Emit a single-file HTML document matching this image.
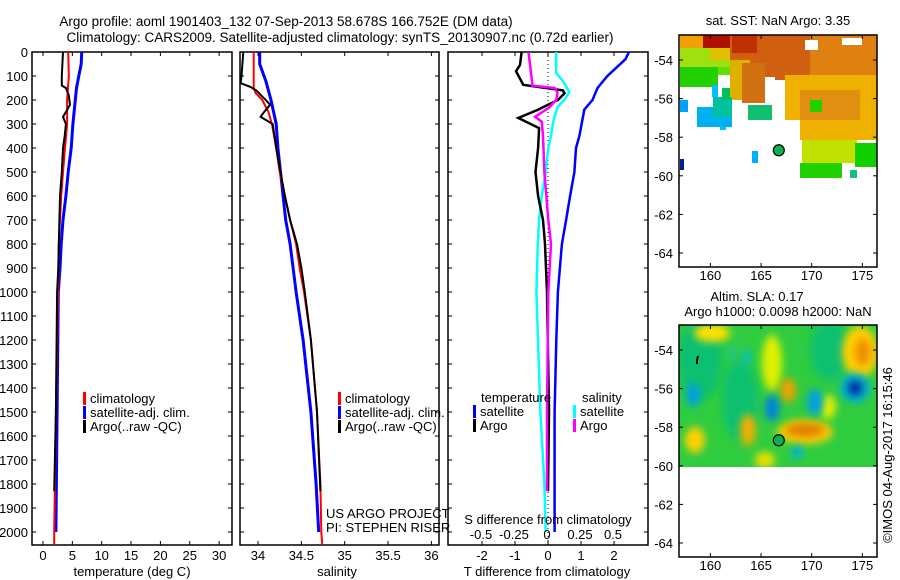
<!DOCTYPE html>
<html><head><meta charset="utf-8"><style>
body{margin:0;background:#fff;}
svg{display:block;font-family:"Liberation Sans",sans-serif;}
text{fill:#000;}
</style></head><body>
<svg id="fig" width="900" height="580" viewBox="0 0 900 580" xmlns="http://www.w3.org/2000/svg">
<defs>
<filter id="blur" x="-50%" y="-50%" width="200%" height="200%"><feGaussianBlur stdDeviation="4"/></filter>
<clipPath id="clipSla"><rect x="679" y="325" width="198" height="142"/></clipPath>
</defs>
<text x="286" y="26" font-size="13.5" text-anchor="middle">Argo profile: aoml 1901403_132 07-Sep-2013 58.678S 166.752E (DM data)</text>
<text x="340" y="42" font-size="13.5" text-anchor="middle">Climatology: CARS2009. Satellite-adjusted climatology: synTS_20130907.nc (0.72d earlier)</text>
<g id="p1"></g>
<g id="p2"></g>
<g id="p3"></g>
<g id="m1"></g>
<g id="m2"></g>
<text transform="translate(892,455) rotate(-90)" font-size="13" text-anchor="middle">©IMOS 04-Aug-2017 16:15:46</text>
</svg>
<script>
// ---- data ----
const tempClimDepth=[0,100,200,300,400,500,600,700,800,1000,1200,1500,2000,2050];
const tempClim=[4.3,4.4,4.1,4.1,3.75,3.4,3.1,2.9,2.7,2.55,2.4,2.2,1.9,1.9];
const tempSatDepth=[0,50,100,150,200,300,400,500,600,700,800,900,1000,1500,2000];
const tempSat=[6.6,6.5,6.1,5.7,5.5,5.1,4.8,4.3,3.9,3.4,3.1,2.9,2.6,2.4,2.2];
const tempArgoDepth=[0,100,140,150,180,220,250,270,300,350,400,500,600,800,900,1000,1500,1830];
const tempArgo=[3.4,3.2,3.2,3.9,4.4,4.6,3.9,3.4,3.9,3.7,3.4,3.2,2.9,2.7,2.6,2.4,2.2,1.9];
const salClimDepth=[0,150,170,200,250,300,400,500,600,700,800,900,1000,1200,1500,1800,2000,2050];
const salClim=[33.95,33.95,33.97,34.05,34.12,34.16,34.21,34.25,34.31,34.37,34.44,34.48,34.53,34.61,34.68,34.72,34.73,34.74];
const salSatDepth=[0,50,80,120,200,300,400,500,600,700,800,1000,1200,1500,1800,2000];
const salSat=[34.02,34.02,34.05,34.09,34.15,34.21,34.23,34.26,34.29,34.32,34.37,34.44,34.52,34.61,34.67,34.70];
const salArgoDepth=[0,100,130,145,160,200,220,250,270,300,400,500,600,700,800,900,1000,1200,1500,1830];
const salArgo=[33.83,33.81,33.80,33.91,33.98,34.09,34.14,34.07,34.03,34.17,34.21,34.26,34.31,34.37,34.45,34.50,34.54,34.61,34.68,34.72];
const dTSatDepth=[0,30,100,150,200,240,350,400,500,600,700,800,900,1000,1200,1500,2000];
const dTSat=[2.45,2.35,1.8,1.5,1.35,1.1,0.95,0.85,0.8,0.67,0.55,0.42,0.36,0.3,0.25,0.2,0.2];
const dTArgoDepth=[0,54,80,137,160,172,200,242,275,317,400,500,600,700,800,900,1000,1500,1830];
const dTArgo=[-0.8,-0.85,-0.97,-0.75,0.45,0.5,0.3,-0.33,-0.9,-0.27,-0.3,-0.38,-0.3,-0.15,-0.09,-0.06,-0.03,0.03,0.0];
const dSArgoDepth=[0,140,150,170,200,230,270,290,350,500,700,800,1000,1500,1830];
const dSArgo=[-0.14,-0.11,0.06,0.08,0.07,0.02,-0.09,-0.04,-0.03,-0.02,0.01,0.03,0.01,0.0,0.0];
const dSSatDepth=[0,88,120,167,200,229,283,350,400,500,600,700,800,1000,1500,1800,2000];
const dSSat=[0.07,0.07,0.12,0.17,0.13,0.08,0.05,0.03,0.01,-0.01,-0.04,-0.06,-0.07,-0.08,-0.05,-0.02,-0.01];
const depthTicks=[0,100,200,300,400,500,600,700,800,900,1000,1100,1200,1300,1400,1500,1600,1700,1800,1900,2000];
const tempTicks=[0,5,10,15,20,25,30];
const salTicks=[34,34.5,35,35.5,36];
const salTickLabels=["34","34.5","35","35.5","36"];
const dTTicks=[-2,-1,0,1,2];
const dSTicks=[-0.5,-0.25,0,0.25,0.5];
const lonTicks=[160,165,170,175];
const latTicks=[-54,-56,-58,-60,-62,-64];
const argoLon=166.752, argoLat=-58.678;

const NS="http://www.w3.org/2000/svg";
function mk(parent,tag,attrs,txt){const e=document.createElementNS(NS,tag);for(const k in attrs)e.setAttribute(k,attrs[k]);if(txt!==undefined)e.textContent=txt;parent.appendChild(e);return e;}
const Y0=52,Y1=545;
const yD=d=>52+d*0.24;
function panelBox(g,x0,x1){
  const r=mk(g,'rect',{x:x0,y:Y0,width:x1-x0,height:Y1-Y0,fill:'none',stroke:'#000','stroke-width':1.5});
  
  
  depthTicks.forEach(d=>{mk(g,'line',{x1:x0,x2:x0+4,y1:yD(d),y2:yD(d),stroke:'#000'});mk(g,'line',{x1:x1,x2:x1-4,y1:yD(d),y2:yD(d),stroke:'#000'});});
}
function series(g,xs,ds,fx,color,w,name){
  const pts=xs.map((v,i)=>fx(v).toFixed(1)+','+yD(ds[i]).toFixed(1)).join(' ');
  const p=mk(g,'polyline',{points:pts,fill:'none',stroke:color,'stroke-width':w,'stroke-linejoin':'miter'});
  
  
}
function xTicks(g,ticks,labels,fx,ylab,x0,x1){
  ticks.forEach((t,i)=>{const x=fx(t);mk(g,'line',{x1:x,x2:x,y1:Y1,y2:Y1-4,stroke:'#000'});mk(g,'line',{x1:x,x2:x,y1:Y0,y2:Y0+4,stroke:'#000'});
    const tl=mk(g,'text',{x:x,y:ylab,'font-size':13,'text-anchor':'middle'},labels[i]);
    
    });
}
function legend(g,x,y,items){
  items.forEach((it,i)=>{mk(g,'rect',{x:x,y:y+i*14-11,width:3,height:13,fill:it[1]});
    const t=mk(g,'text',{x:x+7,y:y+i*14,'font-size':13},it[0]);
    
    });
}
// panel 1
const p1=document.getElementById('p1');
const fT=t=>43+5.87*t;
panelBox(p1,32,232);
depthTicks.forEach(d=>{const t=mk(p1,'text',{x:28,y:yD(d)+5,'font-size':13,'text-anchor':'end'},String(d));
  
  });
xTicks(p1,tempTicks,tempTicks.map(String),fT,560,32,232);
series(p1,tempSat,tempSatDepth,fT,'#0000ff',3,'temp-satellite-line');
series(p1,tempClim,tempClimDepth,fT,'#ff0000',2,'temp-climatology-line');
series(p1,tempArgo,tempArgoDepth,fT,'#000',2,'temp-argo-line');
legend(p1,83,403,[['climatology','#f00'],['satellite-adj. clim.','#00f'],['Argo(..raw -QC)','#000']]);
mk(p1,'text',{x:132,y:576,'font-size':13,'text-anchor':'middle'},'temperature (deg C)');
// panel 2
const p2=document.getElementById('p2');
const fS=s=>258+86.7*(s-34);
panelBox(p2,240,439);
xTicks(p2,salTicks,salTickLabels,fS,560,240,439);
series(p2,salSat,salSatDepth,fS,'#0000ff',3,'sal-satellite-line');
series(p2,salClim,salClimDepth,fS,'#ff0000',2,'sal-climatology-line');
series(p2,salArgo,salArgoDepth,fS,'#000',2,'sal-argo-line');
legend(p2,338,403,[['climatology','#f00'],['satellite-adj. clim.','#00f'],['Argo(..raw -QC)','#000']]);
mk(p2,'text',{x:326,y:518,'font-size':13},'US ARGO PROJECT');
mk(p2,'text',{x:326,y:532,'font-size':13},'PI: STEPHEN RISER');
mk(p2,'text',{x:337,y:576,'font-size':13,'text-anchor':'middle'},'salinity');
// panel 3
const p3=document.getElementById('p3');
const fdT=t=>548+33*t, fdS=s=>547+132*s;
panelBox(p3,448,648);
mk(p3,'line',{x1:548,x2:548,y1:Y0,y2:Y1,stroke:'#000','stroke-dasharray':'1,3'});
xTicks(p3,dTTicks,dTTicks.map(String),fdT,560,448,648);
series(p3,dSSat,dSSatDepth,fdS,'#00ffff',2.5,'sdiff-satellite-line');
series(p3,dTSat,dTSatDepth,fdT,'#0000ff',2.5,'tdiff-satellite-line');
series(p3,dTArgo,dTArgoDepth,fdT,'#000',2.5,'tdiff-argo-line');
series(p3,dSArgo,dSArgoDepth,fdS,'#ff00ff',2.5,'sdiff-argo-line');
mk(p3,'text',{x:481,y:402,'font-size':13},'temperature');
mk(p3,'text',{x:582,y:402,'font-size':13},'salinity');
legend(p3,473,416,[['satellite','#00f'],['Argo','#000']]);
legend(p3,573,416,[['satellite','#0ff'],['Argo','#f0f']]);
mk(p3,'text',{x:548,y:524,'font-size':13,'text-anchor':'middle'},'S difference from climatology');
dSTicks.forEach(s=>{const t=mk(p3,'text',{x:fdS(s),y:539,'font-size':13,'text-anchor':'middle'},String(s));
  
  });
mk(p3,'text',{x:547,y:576,'font-size':13,'text-anchor':'middle'},'T difference from climatology');
// maps
const fLon=l=>679+(l-156.9)*10.13;
function mapAxes(g,top,lat54){
  const fLat=la=>lat54+(-54-la)*19.3;
  mk(g,'rect',{x:679,y:top,width:198,height:232,fill:'none',stroke:'#000','stroke-width':1.5});
  lonTicks.forEach(l=>{mk(g,'line',{x1:fLon(l),x2:fLon(l),y1:top,y2:top+4,stroke:'#000'});mk(g,'line',{x1:fLon(l),x2:fLon(l),y1:top+232,y2:top+228,stroke:'#000'});
    mk(g,'text',{x:fLon(l),y:top+245,'font-size':13,'text-anchor':'middle'},String(l));});
  latTicks.forEach(la=>{mk(g,'line',{x1:679,x2:683,y1:fLat(la),y2:fLat(la),stroke:'#000'});mk(g,'line',{x1:877,x2:873,y1:fLat(la),y2:fLat(la),stroke:'#000'});
    mk(g,'text',{x:673,y:fLat(la)+5,'font-size':13,'text-anchor':'end'},String(la));});
  const c=mk(g,'circle',{cx:fLon(argoLon),cy:fLat(argoLat),r:5.5,fill:'#10b050',stroke:'#000','stroke-width':1.2});
  
  
}
// SST map
const m1=document.getElementById('m1');
const sstRects=[
 [680,35,50,16,'#f0a000'],[703,35,30,14,'#b01000'],[730,35,80,42,'#d06010'],[732,35,25,18,'#c03000'],
 [810,35,67,44,'#e08010'],[680,48,50,20,'#a0e010'],[710,48,20,12,'#e0c000'],[680,67,38,20,'#20d000'],[718,67,12,8,'#60e000'],
 [730,60,20,40,'#e0b000'],[742,63,23,40,'#d07010'],[775,75,20,14,'#d06010'],[785,75,92,65,'#f0b000'],[800,90,60,30,'#e09010'],
 [810,100,12,12,'#20d000'],[802,140,55,23,'#c0e000'],[800,163,42,15,'#20d000'],[855,143,22,24,'#10d000'],
 [697,107,35,20,'#00b0f0'],[680,100,8,12,'#00a0ff'],[712,85,6,12,'#00c0ff'],[713,97,19,20,'#00c0a0'],[722,88,8,12,'#00c060'],
 [748,105,24,15,'#10c070'],[706,139,8,12,'#00c0ff'],[718,139,6,12,'#00c0ff'],[718,158,6,12,'#0080ff'],[752,151,6,12,'#00b0ff'],
 [680,159,4,11,'#002090'],[850,170,7,8,'#10c080'],[720,127,6,10,'#00c0ff']];
sstRects.forEach(r=>{const e=mk(m1,'rect',{x:r[0],y:r[1],width:r[2],height:r[3],fill:r[4]});
  
  });
[[765,80,20,20],[805,40,13,10],[842,38,20,7],[690,130,60,60],[760,120,40,70]].forEach(r=>mk(m1,'rect',{x:r[0],y:r[1],width:r[2],height:r[3],fill:'#fff'}));
mapAxes(m1,35,60);
mk(m1,'text',{x:778,y:25,'font-size':13,'text-anchor':'middle'},'sat. SST: NaN Argo: 3.35');
// SLA map
const m2=document.getElementById('m2');
const sg=mk(m2,'g',{'clip-path':'url(#clipSla)'});
mk(sg,'rect',{x:679,y:325,width:198,height:142,fill:'#30cc40'});
const blobs=[[700,360,22,40,'#10c070'],[740,400,18,40,'#10c070'],[830,350,20,30,'#10c070'],
 [712,333,18,9,'#ffe000'],[860,352,18,26,'#ffd000'],[863,352,8,14,'#f09000'],[772,363,10,28,'#e0f000'],[788,390,8,12,'#f0a000'],
 [805,432,28,12,'#ffd000'],[805,430,20,7,'#e08000'],[748,430,8,16,'#f0b000'],[695,440,10,13,'#ffd000'],[828,407,8,12,'#e0f000'],[765,460,10,8,'#f0e000'],
 [855,388,15,15,'#00b0d0'],[855,388,7,7,'#0020a0'],[772,408,7,13,'#0080e0'],[815,402,8,13,'#00a0e0'],[693,395,7,12,'#00a0e0'],[797,452,6,6,'#00b0e0'],[747,357,4,8,'#00c0d0'],[732,353,4,8,'#20c0a0']];
blobs.forEach(b=>{const e=mk(sg,'ellipse',{cx:b[0],cy:b[1],rx:b[2],ry:b[3],fill:b[4],filter:'url(#blur)'});
  
  });
mk(m2,'path',{d:'M697,360 l1,-4 M697,360 l0,4',stroke:'#000','stroke-width':2});
mapAxes(m2,325,350);
mk(m2,'text',{x:757,y:301,'font-size':13,'text-anchor':'middle'},'Altim. SLA: 0.17');
mk(m2,'text',{x:778,y:316,'font-size':13,'text-anchor':'middle'},'Argo h1000: 0.0098 h2000: NaN');
</script>
</body></html>
